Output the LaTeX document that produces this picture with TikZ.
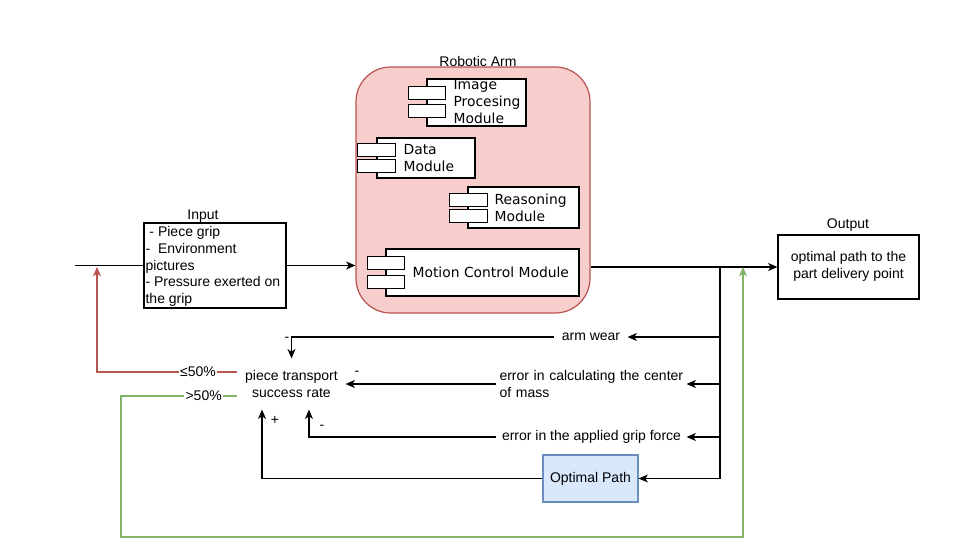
\documentclass[tikz,border=0pt]{standalone}
\usepackage{fontspec}
\setmainfont{Liberation Sans}
\newfontfamily\verdanafont{DejaVu Sans}
\usetikzlibrary{arrows.meta,calc}
\definecolor{armfill}{HTML}{F8CECC}
\definecolor{armdraw}{HTML}{B85450}
\definecolor{optfill}{HTML}{DAE8FC}
\definecolor{optdraw}{HTML}{6C8EBF}
\definecolor{greenline}{HTML}{82B366}
\tikzset{
  box/.style={draw, fill=white, inner sep=0pt},
  modtxt/.style={font=\verdanafont\fontsize{10.4}{12.75}\selectfont, align=left, inner sep=0pt, anchor=west},
  plain/.style={inner sep=0pt, align=center},
  smallbox/.style={draw, fill=white, minimum width=28pt, minimum height=9.6pt, inner sep=0pt},
  elbl/.style={fill=white, inner sep=1pt, font=\fontsize{10.5}{12}\selectfont},
  sgn/.style={inner sep=0pt, font=\fontsize{10.5}{12}\selectfont},
}
\begin{document}
\begin{tikzpicture}[x=0.75pt,y=-0.75pt, font=\fontsize{10.5}{12.75}\selectfont,
  >={Stealth[length=7pt,width=6pt,inset=2pt]}, line width=0.9pt]
\path[use as bounding box, fill=white] (0,0) rectangle (976,553);

% Robotic arm container
\node[draw=armdraw, fill=armfill, rounded corners=26pt, minimum width=175.5pt, minimum height=184.5pt, inner sep=0pt] (arm) at (473,190) {};
\node[plain] (armlbl) at (478,61) {Robotic Arm};

% Image processing module
\node[box, minimum width=74.25pt, minimum height=35.25pt] (imgm) at (476.5,102.5) {};
\node[smallbox] (imgs1) at (427,93) {};
\node[smallbox] (imgs2) at (427,111) {};
\node[modtxt] (imgt) at (453,102) {Image\\Procesing\\Module};

% Data module
\node[box, minimum width=73.5pt, minimum height=30pt] (datam) at (426,158) {};
\node[smallbox] (datas1) at (376.5,150) {};
\node[smallbox] (datas2) at (376.5,166) {};
\node[modtxt] (datat) at (403,158.5) {Data\\Module};

% Reasoning module
\node[box, minimum width=83.25pt, minimum height=30.75pt] (reasm) at (523.5,207.5) {};
\node[smallbox] (reass1) at (468.5,200) {};
\node[smallbox] (reass2) at (468.5,216) {};
\node[modtxt] (reast) at (494,207.5) {Reasoning\\Module};

% Motion control module
\node[box, minimum width=144.75pt, minimum height=35.25pt] (motm) at (482.5,272.5) {};
\node[smallbox] (mots1) at (386,263) {};
\node[smallbox] (mots2) at (386,282) {};
\node[modtxt] (mott) at (412,272) {Motion Control Module};

% Input
\node[box, minimum width=106.5pt, minimum height=63.75pt] (input) at (215,265.5) {};
\node[plain] (inlbl) at (203,216) {Input};
\node[inner sep=0pt, align=left, anchor=west, font=\fontsize{10.5}{12.6}\selectfont] (intxt) at (145,266.5)
  {\ - Piece grip\\-\ \ Environment\\pictures\\- Pressure exerted on\\the grip};

% Output
\node[box, minimum width=105.75pt, minimum height=48pt] (output) at (848.5,267) {};
\node[plain] (outlbl) at (848,225) {Output};
\node[plain] (outtxt) at (848.5,266.5) {optimal path to the\\part delivery point};

% Optimal path
\node[draw=optdraw, fill=optfill, minimum width=71.25pt, minimum height=35.25pt, inner sep=0pt] (opt) at (590.5,478.5) {Optimal Path};

% Success rate
\node[plain, minimum width=80.25pt, minimum height=37.5pt, font=\fontsize{10.5}{13.2}\selectfont] (success) at (291.5,384) {piece transport\\success rate};

% Feedback text nodes
\node[plain, minimum width=54pt] (armwear) at (591,337) {arm wear};
\node[inner sep=0pt, minimum width=141.75pt, text width=138pt, align=left, font=\fontsize{10.5}{13.2}\selectfont] (com) at (591.5,384) {error in calculating the center\\of mass};
\node[plain, minimum width=141.75pt] (grip) at (591.5,437) {error in the applied grip force};

% Coordinates
\coordinate (inL) at (75,265.5);
\coordinate (sp) at (720,267);
\coordinate (redtip) at (97,267);
\coordinate (rc) at (97,372);
\coordinate (gc1) at (121,396);
\coordinate (gc2) at (121,537);
\coordinate (gc3) at (743,537);
\coordinate (greentip) at (743,267);

% Main flow
\draw (inL) -- (input.west);
\draw[->] (input.east) -- (input.east -| arm.west);
\draw[->] (output.west -| arm.east) -- (output.west);
\draw (sp) -- (sp |- opt);

% Feedback arrows
\draw[->] (sp |- armwear) -- (armwear.east);
\draw[->] (sp |- com) -- (com.east);
\draw[->] (sp |- grip) -- (grip.east);
\draw[->] (sp |- opt) -- (opt.east);

\draw[->] (armwear.west) -| (success.north);
\draw[->] (com.west) -- (success.east);
\draw[->] (grip.west) -| ([xshift=13.1pt]success.south);
\draw[->] (opt.west) -| ([xshift=-22.1pt]success.south);

% Sign labels
\node[sgn] (s1) at (287,339) {-};
\node[sgn] (s2) at (357,373) {-};
\node[sgn] (s3) at (275,420) {+};
\node[sgn] (s4) at (322,427) {-};

% Decision lines
\draw[armdraw, ->] ([yshift=9pt]success.west) -- node[elbl, text=black, pos=0.28] {≤50\%} (rc) -- (redtip);
\draw[greenline, ->] ([yshift=-9pt]success.west) -- node[elbl, text=black, pos=0.29] {>50\%} (gc1) -- (gc2) -- (gc3) -- (greentip);
\end{tikzpicture}
\end{document}
